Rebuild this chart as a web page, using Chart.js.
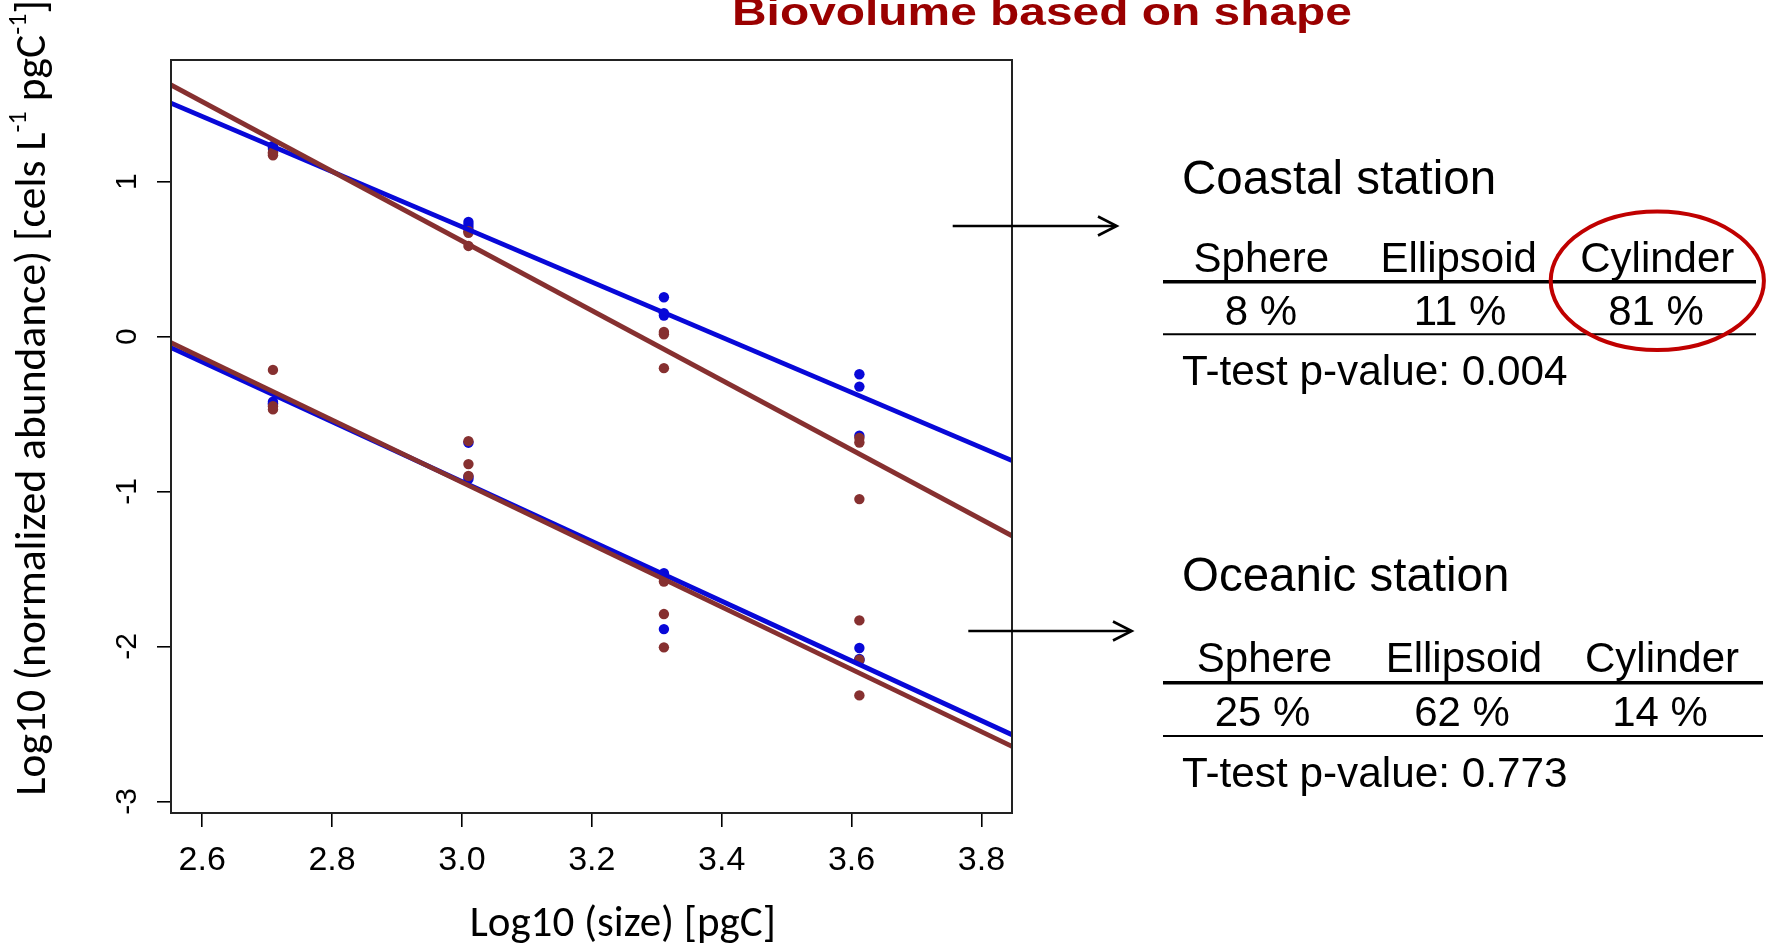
<!DOCTYPE html>
<html>
<head>
<meta charset="utf-8">
<script src="https://cdn.jsdelivr.net/npm/chart.js@4.4.1/dist/chart.umd.min.js"></script>
<style>
  html, body { margin: 0; padding: 0; background: #fff; }
  #wrap { position: relative; width: 1769px; height: 943px; overflow: hidden; background: #fff; }
  #c { position: absolute; left: 0; top: 0; }
  .t { position: absolute; white-space: nowrap; line-height: 1; color: #000; }
  .arial { font-family: 'Liberation Sans', Arial, sans-serif; }
  .cal { font-family: Carlito, Lato, 'Open Sans', sans-serif; }
  .ctr { width: 300px; text-align: center; }
  svg { position: absolute; left: 0; top: 0; }
</style>
</head>
<body>
<div id="wrap">
  <canvas id="c" width="1769" height="943"></canvas>
  <svg width="1769" height="943" viewBox="0 0 1769 943">
    <!-- arrows -->
    <line x1="952.7" y1="226" x2="1116" y2="226" stroke="#000" stroke-width="2.3"/>
    <polyline points="1098,216.5 1116.7,226 1098,235.5" fill="none" stroke="#000" stroke-width="2.6"/>
    <line x1="968.3" y1="631" x2="1131" y2="631" stroke="#000" stroke-width="2.3"/>
    <polyline points="1113,621.5 1131.7,631 1113,640.5" fill="none" stroke="#000" stroke-width="2.6"/>
    <!-- table rules -->
    <line x1="1163" y1="281.7" x2="1756" y2="281.7" stroke="#000" stroke-width="3.4"/>
    <line x1="1163" y1="334.3" x2="1756" y2="334.3" stroke="#000" stroke-width="2"/>
    <line x1="1163" y1="682.7" x2="1763" y2="682.7" stroke="#000" stroke-width="3.4"/>
    <line x1="1163" y1="736" x2="1763" y2="736" stroke="#000" stroke-width="2"/>
    <!-- highlight ellipse -->
    <ellipse cx="1657.3" cy="280.8" rx="106.6" ry="69.2" fill="none" stroke="#c00000" stroke-width="4"/>
  </svg>

  <div class="t arial" style="left:731.5px; top:-7px; font-size:38px; font-weight:bold; color:#9a0000; transform:scaleX(1.26); transform-origin:0 0;">Biovolume based on shape</div>

  <div class="t cal" style="left:622.8px; top:900px; font-size:43px; transform:translateX(-50%);">Log10 (size) [pgC]</div>
  <div class="t cal" style="left:30.5px; top:398px; font-size:43.5px; transform:translate(-50%,-50%) rotate(-90deg);">Log10 (normalized abundance) [cels L<sup style="font-size:60%; vertical-align:0.75em; line-height:0;">-1</sup> pgC<sup style="font-size:60%; vertical-align:0.75em; line-height:0;">-1</sup>]</div>

  <!-- Coastal -->
  <div class="t arial" style="left:1182px; top:154px; font-size:47.5px;">Coastal station</div>
  <div class="t arial ctr" style="left:1111.3px; top:236.6px; font-size:42px;">Sphere</div>
  <div class="t arial ctr" style="left:1308.7px; top:236.6px; font-size:42px;">Ellipsoid</div>
  <div class="t arial ctr" style="left:1507.3px; top:236.6px; font-size:42px;">Cylinder</div>
  <div class="t arial ctr" style="left:1111px; top:290.4px; font-size:42px;">8 %</div>
  <div class="t arial ctr" style="left:1310px; top:290.4px; font-size:42px;">11 %</div>
  <div class="t arial ctr" style="left:1506px; top:290.4px; font-size:42px;">81 %</div>
  <div class="t arial" style="left:1182px; top:350.4px; font-size:42.3px;">T-test p-value: 0.004</div>

  <!-- Oceanic -->
  <div class="t arial" style="left:1182px; top:551px; font-size:47.5px;">Oceanic station</div>
  <div class="t arial ctr" style="left:1114.5px; top:637.4px; font-size:42px;">Sphere</div>
  <div class="t arial ctr" style="left:1313.9px; top:637.4px; font-size:42px;">Ellipsoid</div>
  <div class="t arial ctr" style="left:1512px; top:637.4px; font-size:42px;">Cylinder</div>
  <div class="t arial ctr" style="left:1112.5px; top:690.9px; font-size:42px;">25 %</div>
  <div class="t arial ctr" style="left:1312px; top:690.9px; font-size:42px;">62 %</div>
  <div class="t arial ctr" style="left:1510px; top:690.9px; font-size:42px;">14 %</div>
  <div class="t arial" style="left:1182px; top:751.5px; font-size:42.3px;">T-test p-value: 0.773</div>
</div>

<script>
// ---------- data ----------
const xTicks = [2.6, 2.8, 3.0, 3.2, 3.4, 3.6, 3.8];
const xTickLabels = ['2.6', '2.8', '3.0', '3.2', '3.4', '3.6', '3.8'];
const yTicks = [1, 0, -1, -2, -3];
const yTickLabels = ['1', '0', '-1', '-2', '-3'];
const xRange = [2.552, 3.847];
const yRange = [-3.075, 1.785];

// log10 size classes (each has 3 points per colour)
const sizes = [2.709, 3.010, 3.311, 3.612];

// Coastal station (upper group)
const coastalBlue  = [1.23, 1.22, 1.21,   0.74, 0.72, 0.70,   0.254, 0.151, 0.136,   -0.243, -0.323, -0.64];
const coastalBrown = [1.19, 1.18, 1.17,   0.68, 0.67, 0.585,  0.03, 0.015, -0.204,   -0.655, -0.684, -1.049];
// Oceanic station (lower group)
const oceanicBlue  = [-0.42, -0.43, -0.44,   -0.685, -0.905, -0.92,   -1.527, -1.55, -1.888,   -2.01, -2.08, -2.09];
const oceanicBrown = [-0.215, -0.45, -0.47,  -0.675, -0.823, -0.90,   -1.581, -1.791, -2.006,  -1.832, -2.086, -2.316];

// fitted lines: value at left and right edge of the plot
const fitX = [2.552, 3.847];
const coastalBlueFit  = [1.506, -0.800];
const coastalBrownFit = [1.624, -1.286];
const oceanicBlueFit  = [-0.071, -2.570];
const oceanicBrownFit = [-0.039, -2.645];

// ---------- build ----------
const BLUE = '#0808d8';
const BROWN = '#863030';

function pts(vals) { return vals.map((v, i) => ({ x: sizes[Math.floor(i / 3)], y: v })); }
function fit(vals) { return vals.map((v, i) => ({ x: fitX[i], y: v })); }

function pointSet(label, vals, color, order) {
  return { type: 'scatter', label, data: pts(vals), backgroundColor: color, borderColor: color,
           borderWidth: 0, pointRadius: 5.2, pointHoverRadius: 5.2, showLine: false, order };
}
function lineSet(label, vals, color, order) {
  return { type: 'scatter', label, data: fit(vals), borderColor: color, backgroundColor: color,
           borderWidth: 4.8, pointRadius: 0, showLine: true, fill: false, order };
}

const boxPlugin = {
  id: 'box',
  afterDraw(chart) {
    const { ctx, chartArea: a } = chart;
    ctx.save();
    ctx.strokeStyle = '#222';
    ctx.lineWidth = 2;
    ctx.strokeRect(a.left, a.top, a.right - a.left, a.bottom - a.top);
    ctx.restore();
  }
};

const tickFont = "'Liberation Sans Narrow', 'Liberation Sans', Arial, sans-serif";

new Chart(document.getElementById('c'), {
  type: 'scatter',
  data: {
    datasets: [
      lineSet('Coastal brown fit', coastalBrownFit, BROWN, 0),
      lineSet('Oceanic brown fit', oceanicBrownFit, BROWN, 0),
      lineSet('Coastal blue fit', coastalBlueFit, BLUE, 1),
      lineSet('Oceanic blue fit', oceanicBlueFit, BLUE, 1),
      pointSet('Coastal brown', coastalBrown, BROWN, 2),
      pointSet('Oceanic brown', oceanicBrown, BROWN, 2),
      pointSet('Coastal blue', coastalBlue, BLUE, 3),
      pointSet('Oceanic blue', oceanicBlue, BLUE, 3)
    ]
  },
  options: {
    responsive: false,
    animation: false,
    devicePixelRatio: 1,
    layout: { padding: { left: 0, top: 60, right: 757, bottom: 0 } },
    plugins: { legend: { display: false }, tooltip: { enabled: false }, title: { display: false } },
    scales: {
      x: {
        type: 'linear', min: xRange[0], max: xRange[1],
        afterBuildTicks: s => { s.ticks = xTicks.map(v => ({ value: v })); },
        afterFit: s => { s.height = 130; },
        grid: { display: true, drawOnChartArea: false, drawTicks: true, tickLength: 14, color: '#000', lineWidth: 1.6 },
        border: { display: true, color: '#222', width: 2 },
        ticks: {
          autoSkip: false, maxRotation: 0, minRotation: 0, padding: 13, color: '#000',
          font: { family: tickFont, size: 34 },
          callback: (v) => { const i = xTicks.findIndex(t => Math.abs(t - v) < 1e-9); return i >= 0 ? xTickLabels[i] : ''; }
        }
      },
      y: {
        type: 'linear', min: yRange[0], max: yRange[1],
        afterBuildTicks: s => { s.ticks = yTicks.map(v => ({ value: v })); },
        afterFit: s => { s.width = 171; },
        grid: { display: true, drawOnChartArea: false, drawTicks: true, tickLength: 14, color: '#000', lineWidth: 1.6 },
        border: { display: true, color: '#222', width: 2 },
        ticks: {
          autoSkip: false, minRotation: 90, maxRotation: 90, crossAlign: 'center', padding: 16, color: '#000',
          font: { family: tickFont, size: 30 },
          callback: (v) => { const i = yTicks.findIndex(t => Math.abs(t - v) < 1e-9); return i >= 0 ? yTickLabels[i] : ''; }
        }
      }
    }
  },
  plugins: [boxPlugin]
});
</script>
</body>
</html>
